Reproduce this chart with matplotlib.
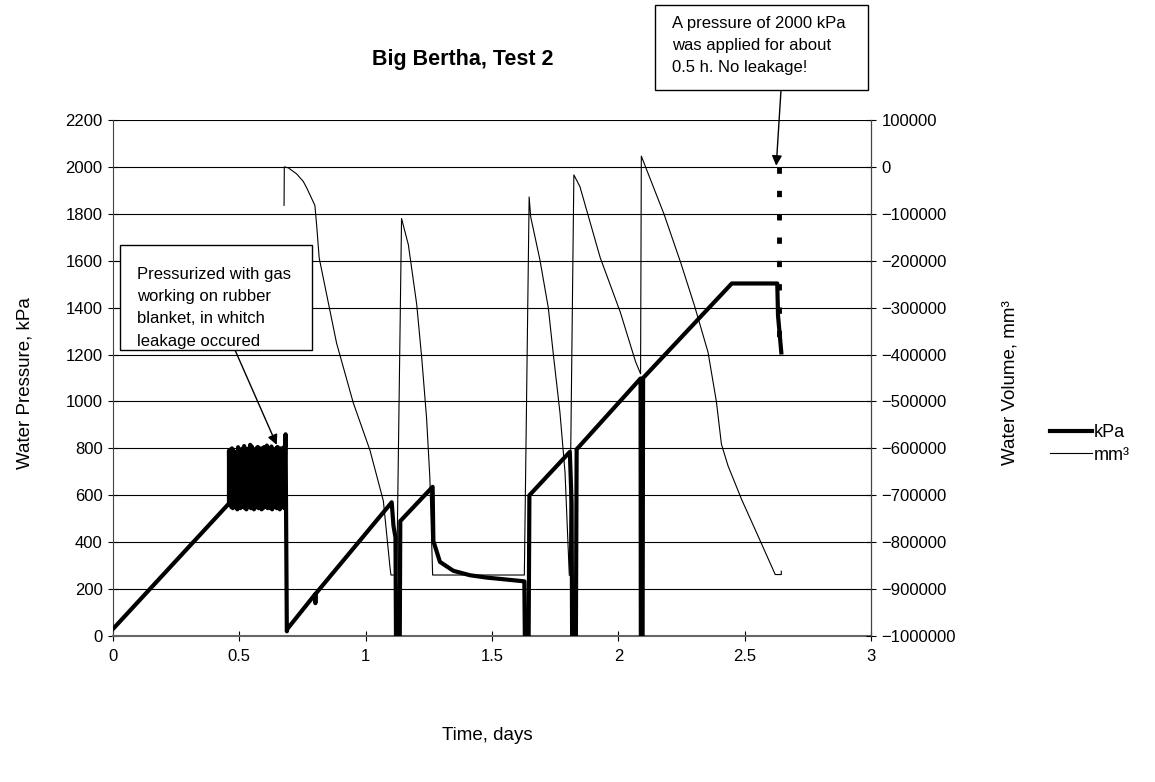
import matplotlib
matplotlib.use('Agg')
import matplotlib.pyplot as plt
from matplotlib.patches import Rectangle

# pressure, kPa (thick line)
noise_t = [0.462, 0.465, 0.468, 0.471, 0.474, 0.477, 0.480, 0.483, 0.486, 0.489,
           0.492, 0.495, 0.498, 0.501, 0.504, 0.507, 0.510, 0.513, 0.516, 0.519,
           0.522, 0.525, 0.528, 0.531, 0.534, 0.537, 0.540, 0.543, 0.546, 0.549,
           0.552, 0.555, 0.558, 0.561, 0.564, 0.567, 0.570, 0.573, 0.576, 0.579,
           0.582, 0.585, 0.588, 0.591, 0.594, 0.597, 0.600, 0.603, 0.606, 0.609,
           0.612, 0.615, 0.618, 0.621, 0.624, 0.627, 0.630, 0.633, 0.636, 0.639,
           0.642, 0.645, 0.648, 0.651, 0.654, 0.657, 0.660, 0.663, 0.666, 0.669,
           0.672, 0.675, 0.678, 0.681]
noise_p = [560, 795, 550, 800, 545, 790, 555, 782, 548, 778, 540, 805, 550, 795,
           545, 788, 555, 800, 550, 810, 545, 798, 540, 792, 550, 800, 555, 815,
           545, 808, 550, 796, 540, 790, 548, 800, 552, 806, 545, 797, 550, 800,
           540, 790, 545, 805, 555, 800, 550, 812, 545, 796, 550, 800, 545, 808,
           540, 795, 550, 788, 555, 800, 545, 806, 550, 797, 540, 800, 548, 792,
           552, 804, 545, 800]

t_kpa = ([0.0, 0.459, 0.459] + noise_t +
         [0.683, 0.688, 0.690, 0.800, 0.801, 0.802, 1.103, 1.110, 1.118,
          1.120, 1.135, 1.137, 1.265, 1.268, 1.294, 1.347, 1.413, 1.479, 1.545,
          1.628, 1.630, 1.645, 1.648, 1.808, 1.815, 1.817, 1.832, 1.835, 2.088,
          2.089, 2.096, 2.098, 2.449, 2.629, 2.632, 2.645])
p_kpa = ([30, 565, 790] + noise_p +
         [860, 20, 30, 178, 140, 180, 570, 470, 420,
          0, 0, 490, 636, 405, 316, 278, 259, 249, 242,
          233, 0, 0, 600, 785, 568, 0, 0, 796, 1098,
          0, 0, 1100, 1503, 1503, 1366, 1209])

# water volume, mm3 (thin line)
t_mm3 = [0.677, 0.678, 0.694, 0.727, 0.753, 0.766, 0.780, 0.799, 0.806, 0.816,
         0.885, 0.951, 1.017, 1.070, 1.096, 1.100, 1.123, 1.142, 1.169, 1.202,
         1.222, 1.241, 1.254, 1.265, 1.628, 1.647, 1.653, 1.690, 1.723, 1.742,
         1.769, 1.789, 1.806, 1.824, 1.848, 1.928, 2.008, 2.068, 2.088, 2.091,
         2.181, 2.248, 2.302, 2.355, 2.388, 2.408, 2.434, 2.488, 2.554, 2.621,
         2.645, 2.645]
v_mm3 = [-82000, 0, -2000, -15000, -31000, -44000, -60000, -82000, -124000, -194000,
         -376000, -503000, -604000, -712000, -852000, -870000, -870000, -110000, -166000, -293000,
         -408000, -535000, -662000, -870000, -870000, -64000, -106000, -199000, -301000, -396000,
         -524000, -651000, -871000, -17000, -42000, -193000, -310000, -415000, -441000, 23000,
         -101000, -206000, -297000, -395000, -500000, -591000, -637000, -709000, -788000, -869000,
         -869000, -862000]

x_ticks = [0, 0.5, 1, 1.5, 2, 2.5, 3]
x_labels = ['0', '0.5', '1', '1.5', '2', '2.5', '3']
kpa_ticks = list(range(0, 2201, 200))
mm3_ticks = [100000, 0, -100000, -200000, -300000, -400000, -500000,
             -600000, -700000, -800000, -900000, -1000000]
mm3_labels = ['100000', '0', '\u2212100000', '\u2212200000', '\u2212300000',
              '\u2212400000', '\u2212500000', '\u2212600000', '\u2212700000',
              '\u2212800000', '\u2212900000', '\u22121000000']

plt.rcParams['font.family'] = ['Liberation Sans', 'DejaVu Sans']

W, H = 1155, 782
fig = plt.figure(figsize=(W / 100, H / 100), dpi=100)
ax = fig.add_axes([113 / W, 1 - 636 / H, 758 / W, 516 / H])
ax2 = ax.twinx()

ln1, = ax.plot(t_kpa, p_kpa, color='black', lw=3, solid_joinstyle='round', zorder=3)
ln2, = ax2.plot(t_mm3, v_mm3, color='black', lw=0.8, zorder=2)

# the 2000 kPa test (dashed)
ax.plot([2.636, 2.636], [2000, 1260], color='black', lw=3.5,
        ls=(0, (1.3, 3.5)), dash_capstyle='butt', zorder=4)

ax.set_xlim(0, 3)
ax.set_ylim(0, 2200)
ax2.set_ylim(-1000000, 100000)
ax.set_xticks(x_ticks)
ax.set_xticklabels(x_labels)
ax.set_yticks(kpa_ticks)
ax2.set_yticks(mm3_ticks)
ax2.set_yticklabels(mm3_labels)

ax.grid(axis='y', color='black', lw=0.8)
ax.set_axisbelow(True)
for a in (ax, ax2):
    a.spines['top'].set_visible(False)
    a.tick_params(labelsize=12, width=0.8, length=7, direction='inout')
ax.spines['left'].set_color('#444444')
ax.spines['bottom'].set_color('#666666')
ax.spines['bottom'].set_linewidth(1.5)
ax2.spines['right'].set_color('#444444')
ax2.spines['left'].set_visible(False)
ax2.spines['bottom'].set_visible(False)
ax.tick_params(axis='x', pad=6)
ax.tick_params(axis='y', pad=4)
ax2.tick_params(axis='y', pad=4)

fig.text(463 / W, 1 - 60 / H, 'Big Bertha, Test 2', ha='center', va='center',
         fontsize=15.5, fontweight='bold')
fig.text(487 / W, 1 - 735 / H, 'Time, days', ha='center', va='center', fontsize=13.5)
fig.text(25 / W, 1 - 383 / H, 'Water Pressure, kPa', ha='center', va='center',
         rotation=90, fontsize=13.5)
fig.text(1010 / W, 1 - 383 / H, 'Water Volume, mm\u00b3', ha='center', va='center',
         rotation=90, fontsize=13.5)

fig.legend([ln1, ln2], ['kPa', 'mm\u00b3'], loc='center left',
           bbox_to_anchor=(1034 / W, 1 - 444 / H), frameon=False, fontsize=13,
           handlelength=2.3, handletextpad=0.1, labelspacing=0.3)

# annotation boxes
fig.add_artist(Rectangle((120 / W, 1 - 350 / H), 192 / W, 105 / H,
                         transform=fig.transFigure, facecolor='white',
                         edgecolor='black', lw=1, zorder=5))
fig.text(137 / W, 1 - 267 / H,
         'Pressurized with gas\nworking on rubber\nblanket, in whitch\nleakage occured',
         ha='left', va='top', fontsize=12, linespacing=1.6, zorder=6)
fig.add_artist(Rectangle((655 / W, 1 - 90 / H), 213 / W, 85 / H,
                         transform=fig.transFigure, facecolor='white',
                         edgecolor='black', lw=1, zorder=5))
fig.text(672 / W, 1 - 16 / H,
         'A pressure of 2000 kPa\nwas applied for about\n0.5 h. No leakage!',
         ha='left', va='top', fontsize=12, linespacing=1.6, zorder=6)

ax2.annotate('', xy=(0.648, 815), xycoords=ax.transData,
             xytext=(235 / W, 1 - 350 / H), textcoords='figure fraction',
             arrowprops=dict(arrowstyle='-|>', color='black', lw=1, mutation_scale=15,
                             shrinkA=0, shrinkB=0))
ax2.annotate('', xy=(2.625, 2005), xycoords=ax.transData,
             xytext=(781 / W, 1 - 90 / H), textcoords='figure fraction',
             arrowprops=dict(arrowstyle='-|>', color='black', lw=1, mutation_scale=15,
                             shrinkA=0, shrinkB=0))

plt.savefig('out.png', dpi=100)
